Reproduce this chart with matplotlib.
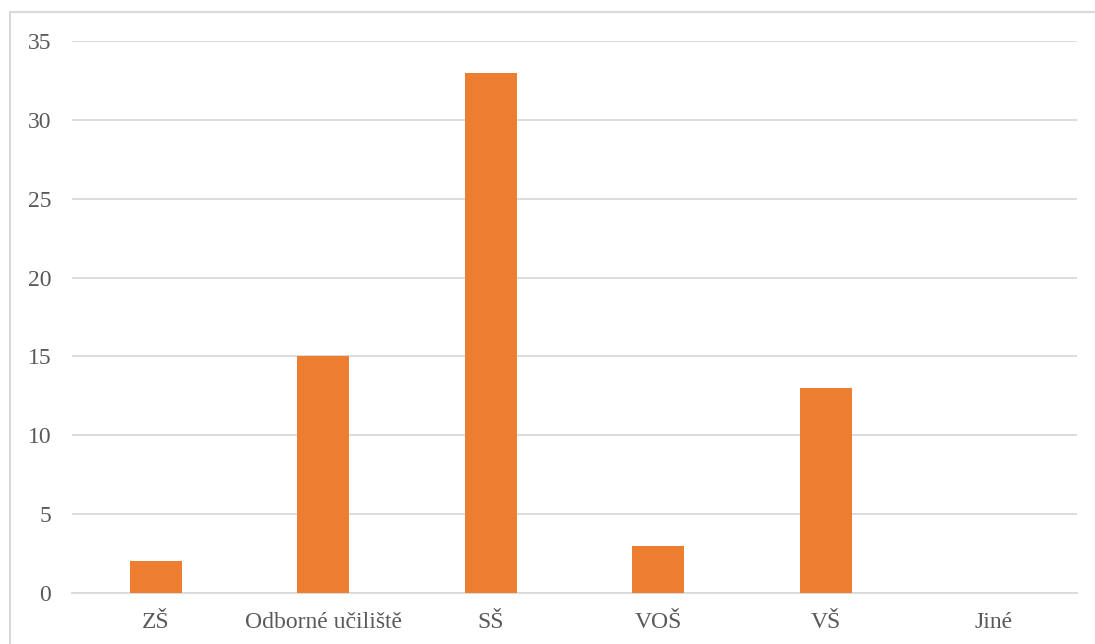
import matplotlib
matplotlib.use("Agg")
import matplotlib.pyplot as plt
from matplotlib.patches import Rectangle

categories = ["ZŠ", "Odborné učiliště", "SŠ", "VOŠ", "VŠ", "Jiné"]
values = [2, 15, 33, 3, 13, 0]
yticks = [0, 5, 10, 15, 20, 25, 30, 35]

W, H = 1095, 644
fig = plt.figure(figsize=(W / 100, H / 100), dpi=100)
plt.rcParams['font.family'] = ['Liberation Serif', 'DejaVu Serif']

# outer chart border (top and left visible)
fig.patches.append(Rectangle((10 / W, -0.1), 1.2, (H - 12) / H + 0.1,
                             transform=fig.transFigure, fill=False,
                             edgecolor='#d9d9d9', linewidth=1.5))

left, right = 72 / W, 1077 / W
bottom, top = (H - 593) / H, (H - 41) / H
ax = fig.add_axes([left, bottom, right - left, top - bottom])

x = range(len(categories))
ax.bar(x, values, width=0.31, color='#ED7D31', zorder=3)
ax.set_xlim(-0.5, len(categories) - 0.5)
ax.set_ylim(0, 35)
ax.set_yticks(yticks)
ax.set_xticks(list(x))
ax.set_xticklabels(categories)
ax.grid(axis='y', color='#d9d9d9', linewidth=1.3, zorder=0)
for s in ['top', 'right', 'left']:
    ax.spines[s].set_visible(False)
ax.spines['bottom'].set_color('#d9d9d9')
ax.spines['bottom'].set_linewidth(1.3)
ax.tick_params(axis='both', length=0, labelsize=17, labelcolor='#595959')
ax.tick_params(axis='y', pad=15)
ax.tick_params(axis='x', pad=14)

fig.savefig("out.png", dpi=100)
